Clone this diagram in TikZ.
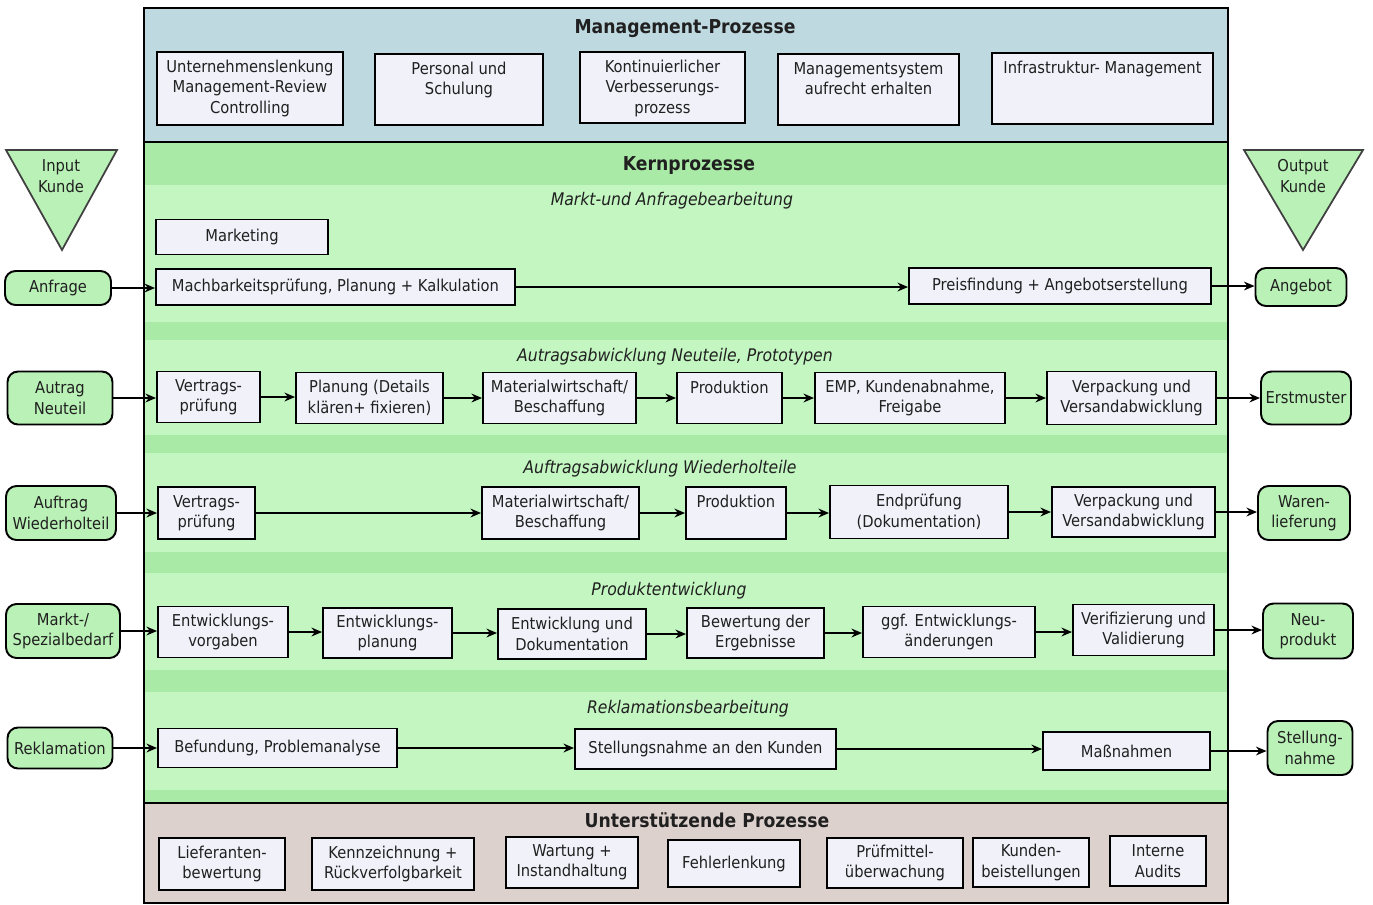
\documentclass[tikz,border=0pt]{standalone}
\usepackage{fontspec}
\setmainfont{DejaVu Sans Condensed}
\usepackage{tikz}
\usepackage{xcolor}
\usetikzlibrary{arrows.meta}

\definecolor{gestion}{HTML}{BFD9E1}
\definecolor{verdeclaro}{HTML}{C3F6C1}
\definecolor{verdeoscuro}{HTML}{A9EBA6}
\definecolor{soporte}{HTML}{DDD1CD}
\definecolor{caja}{HTML}{F1F1FA}
\definecolor{externo}{HTML}{B9F1B6}
\definecolor{texto}{HTML}{202020}

\begin{document}
\begin{tikzpicture}[x=0.02cm, y=-0.02cm,
    every node/.style={text=texto, font=\fontsize{9.3}{11.6}\selectfont},
    pbox/.style={draw=black, fill=caja, line width=1.1pt, align=center, inner sep=1pt},
    extbox/.style={draw=black, fill=externo, line width=1.1pt, rounded corners=6pt, align=center, inner sep=1pt},
    arriba/.style={anchor=north, align=center, inner sep=5pt},
    titulo/.style={font=\fontsize{10.9}{12}\selectfont\bfseries},
    carril/.style={font=\fontsize{9.9}{11}\selectfont\itshape},
    flecha/.style={line width=0.04cm, -{Stealth[length=6pt,width=5pt]}}]
        % Margenes de la figura
        \useasboundingbox (0,0) rectangle (1373,904);
        
        % Fondos de las tres zonas
        \fill[gestion] (144,8) rectangle (1228,142);
        \fill[verdeclaro] (144,142) rectangle (1228,803);
        \fill[verdeoscuro] (144,142) rectangle (1228,185);
        \fill[verdeoscuro] (144,322) rectangle (1228,340);
        \fill[verdeoscuro] (144,435) rectangle (1228,453);
        \fill[verdeoscuro] (144,552) rectangle (1228,573);
        \fill[verdeoscuro] (144,670) rectangle (1228,692);
        \fill[verdeoscuro] (144,790) rectangle (1228,803);
        \fill[soporte] (144,803) rectangle (1228,903);
        
        % Marco y separaciones
        \draw[line width=1.2pt] (144,8) rectangle (1228,903);
        \draw[line width=1.2pt] (144,142) -- (1228,142);
        \draw[line width=1.2pt] (144,803) -- (1228,803);
        
        % Titulos de las zonas y de los carriles
        \node[titulo] (tgestion) at (685,29) {Management-Prozesse};
        \node[titulo] (tkern) at (689,166) {Kernprozesse};
        \node[titulo] (tsoporte) at (707,820) {Unterstützende Prozesse};
        \node[carril] (c1) at (672,201) {Markt-und Anfragebearbeitung};
        \node[carril] (c2) at (675,357) {Autragsabwicklung Neuteile, Prototypen};
        \node[carril] (c3) at (660,469) {Auftragsabwicklung Wiederholteile};
        \node[carril] (c4) at (669,591) {Produktentwicklung};
        \node[carril] (c5) at (688,709) {Reklamationsbearbeitung};
        
        % Procesos de gestion (texto arriba)
        \node[pbox, minimum width=3.72cm, minimum height=1.46cm] (m1) at (250,88.5) {};
        \node[arriba] at (m1.north) {Unternehmenslenkung\\Management-Review\\Controlling};
        \node[pbox, minimum width=3.36cm, minimum height=1.42cm] (m2) at (459,89.5) {};
        \node[arriba] at (m2.north) {Personal und\\Schulung};
        \node[pbox, minimum width=3.30cm, minimum height=1.42cm] (m3) at (662.5,87.5) {};
        \node[arriba] at (m3.north) {Kontinuierlicher\\Verbesserungs-\\prozess};
        \node[pbox, minimum width=3.62cm, minimum height=1.42cm] (m4) at (868.5,89.5) {};
        \node[arriba] at (m4.north) {Managementsystem\\aufrecht erhalten};
        \node[pbox, minimum width=4.42cm, minimum height=1.42cm] (m5) at (1102.5,88.5) {};
        \node[arriba] at (m5.north) {Infrastruktur- Management};
        
        % Triangulos de entrada y salida
        \draw[fill=externo, draw=black!75, line width=1pt] (6,150) -- (117,150) -- (62,250) -- cycle;
        \node[align=center] (tin) at (61,176) {Input\\Kunde};
        \draw[fill=externo, draw=black!75, line width=1pt] (1244,150) -- (1363,150) -- (1303,250) -- cycle;
        \node[align=center] (tout) at (1303,176) {Output\\Kunde};
        
        % Entradas del cliente
        \node[extbox, minimum width=2.12cm, minimum height=0.68cm] (in1) at (58,288) {Anfrage};
        \node[extbox, minimum width=2.10cm, minimum height=1.06cm] (in2) at (60,398) {Autrag\\Neuteil};
        \node[extbox, minimum width=2.20cm, minimum height=1.08cm] (in3) at (61,513) {Auftrag\\Wiederholteil};
        \node[extbox, minimum width=2.28cm, minimum height=1.08cm] (in4) at (63,631) {Markt-/\\Spezialbedarf};
        \node[extbox, minimum width=2.10cm, minimum height=0.82cm] (in5) at (60,748) {Reklamation};
        
        % Salidas al cliente
        \node[extbox, minimum width=1.82cm, minimum height=0.76cm] (out1) at (1301,287) {Angebot};
        \node[extbox, minimum width=1.80cm, minimum height=1.06cm] (out2) at (1306,398) {Erstmuster};
        \node[extbox, minimum width=1.84cm, minimum height=1.08cm] (out3) at (1304,513) {Waren-\\lieferung};
        \node[extbox, minimum width=1.80cm, minimum height=1.10cm] (out4) at (1308,631) {Neu-\\produkt};
        \node[extbox, minimum width=1.70cm, minimum height=1.08cm] (out5) at (1310,748) {Stellung-\\nahme};
        
        % Carril 1: Markt- und Anfragebearbeitung
        \node[pbox, minimum width=3.44cm, minimum height=0.70cm] (k11) at (242,237) {Marketing};
        \node[pbox, minimum width=7.18cm, minimum height=0.72cm] (k12) at (335.5,287) {Machbarkeitsprüfung, Planung + Kalkulation};
        \node[pbox, minimum width=6.04cm, minimum height=0.72cm] (k13) at (1060,286) {Preisfindung + Angebotserstellung};
        
        % Carril 2: Neuteile, Prototypen
        \node[pbox, minimum width=2.06cm, minimum height=1.02cm] (k21) at (208.5,397) {Vertrags-\\prüfung};
        \node[pbox, minimum width=2.94cm, minimum height=1.02cm] (k22) at (369.5,398) {Planung (Details\\klären+ fixieren)};
        \node[pbox, minimum width=3.06cm, minimum height=1.02cm] (k23) at (559.5,398) {Materialwirtschaft/\\Beschaffung};
        \node[pbox, minimum width=2.10cm, minimum height=1.02cm] (k24) at (729.5,398) {};
        \node[arriba] at (k24.north) {Produktion};
        \node[pbox, minimum width=3.80cm, minimum height=1.02cm] (k25) at (910,398) {EMP, Kundenabnahme,\\Freigabe};
        \node[pbox, minimum width=3.38cm, minimum height=1.06cm] (k26) at (1131.5,398) {Verpackung und\\Versandabwicklung};
        
        % Carril 3: Wiederholteile
        \node[pbox, minimum width=1.94cm, minimum height=1.04cm] (k31) at (206.5,513) {Vertrags-\\prüfung};
        \node[pbox, minimum width=3.14cm, minimum height=1.04cm] (k32) at (560.5,513) {Materialwirtschaft/\\Beschaffung};
        \node[pbox, minimum width=2.00cm, minimum height=1.04cm] (k33) at (736,513) {};
        \node[arriba] at (k33.north) {Produktion};
        \node[pbox, minimum width=3.56cm, minimum height=1.06cm] (k34) at (919,512) {Endprüfung\\(Dokumentation)};
        \node[pbox, minimum width=3.26cm, minimum height=1.00cm] (k35) at (1133.5,512) {Verpackung und\\Versandabwicklung};
        
        % Carril 4: Produktentwicklung
        \node[pbox, minimum width=2.60cm, minimum height=1.02cm] (k41) at (223,632) {Entwicklungs-\\vorgaben};
        \node[pbox, minimum width=2.58cm, minimum height=1.00cm] (k42) at (387.5,633) {Entwicklungs-\\planung};
        \node[pbox, minimum width=2.96cm, minimum height=1.00cm] (k43) at (572,634) {Entwicklung und\\Dokumentation};
        \node[pbox, minimum width=2.74cm, minimum height=1.00cm] (k44) at (755.5,633) {Bewertung der\\Ergebnisse};
        \node[pbox, minimum width=3.44cm, minimum height=1.02cm] (k45) at (949,632) {ggf. Entwicklungs-\\änderungen};
        \node[pbox, minimum width=2.82cm, minimum height=1.02cm] (k46) at (1143.5,630) {Verifizierung und\\Validierung};
        
        % Carril 5: Reklamationsbearbeitung
        \node[pbox, minimum width=4.78cm, minimum height=0.78cm] (k51) at (277.5,748) {Befundung, Problemanalyse};
        \node[pbox, minimum width=5.22cm, minimum height=0.80cm] (k52) at (705.5,749) {Stellungsnahme an den Kunden};
        \node[pbox, minimum width=3.34cm, minimum height=0.76cm] (k53) at (1126.5,751) {Maßnahmen};
        
        % Procesos de soporte
        \node[pbox, minimum width=2.52cm, minimum height=1.04cm] (u1) at (222,864) {Lieferanten-\\bewertung};
        \node[pbox, minimum width=3.24cm, minimum height=1.04cm] (u2) at (393,864) {Kennzeichnung +\\Rückverfolgbarkeit};
        \node[pbox, minimum width=2.64cm, minimum height=1.02cm] (u3) at (572,862.5) {Wartung +\\Instandhaltung};
        \node[pbox, minimum width=2.64cm, minimum height=0.94cm] (u4) at (734,863.5) {Fehlerlenkung};
        \node[pbox, minimum width=2.72cm, minimum height=1.00cm] (u5) at (895,863) {Prüfmittel-\\überwachung};
        \node[pbox, minimum width=2.32cm, minimum height=0.98cm] (u6) at (1031,862.5) {Kunden-\\beistellungen};
        \node[pbox, minimum width=1.92cm, minimum height=1.00cm] (u7) at (1158,861) {Interne\\Audits};
        
        % Flechas de cada carril (horizontales)
        \foreach \a/\b in {in1/k12, k12/k13, k13/out1,
                           in2/k21, k21/k22, k22/k23, k23/k24, k24/k25, k25/k26, k26/out2,
                           in3/k31, k31/k32, k32/k33, k33/k34, k34/k35, k35/out3,
                           in4/k41, k41/k42, k42/k43, k43/k44, k44/k45, k45/k46, k46/out4,
                           in5/k51, k51/k52, k52/k53, k53/out5}
            \draw[flecha] (\a.east) -- (\b.west |- \a.east);
    \end{tikzpicture}
\end{document}
